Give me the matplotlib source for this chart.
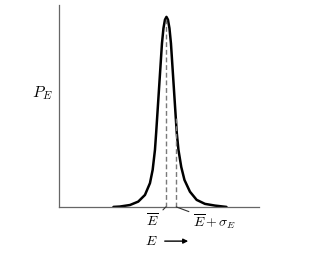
import numpy as np
import matplotlib
matplotlib.use("Agg")
import matplotlib.pyplot as plt

plt.rcParams['mathtext.fontset'] = 'cm'

# curve (E in arbitrary units, P normalised to peak)
E_left = [2.725, 3.05, 3.55, 3.965, 4.30, 4.55, 4.685, 4.80, 4.86, 4.965,
          5.045, 5.15, 5.225, 5.30, 5.375]
P_left = [0.0, 0.002, 0.01, 0.028, 0.063, 0.125, 0.195, 0.30, 0.39, 0.56,
          0.69, 0.86, 0.94, 0.985, 1.0]
E_right = [5.45, 5.525, 5.60, 5.705, 5.785, 5.89, 5.975, 6.115, 6.275, 6.55,
           6.885, 7.30, 7.80, 8.375]
P_right = [0.985, 0.94, 0.86, 0.69, 0.56, 0.39, 0.30, 0.21, 0.142, 0.08,
           0.037, 0.016, 0.007, 0.0]
E_mean = 5.375
sigma_E = 0.46

E = E_left + E_right
P = P_left + P_right

fig = plt.figure(figsize=(3.35, 2.58), dpi=100)
ax = fig.add_axes([0.176, 0.198, 0.597, 0.783])
ax.set_xlim(0, 10)
ax.set_ylim(0, 1.063)

ax.plot(E, P, color='black', lw=1.8, solid_joinstyle='round', solid_capstyle='round')

# dashed markers at the mean and at mean + sigma, up to the curve
p_mean = np.interp(E_mean, E, P)
p_sig = np.interp(E_mean + sigma_E, E, P)
dash = (0, (3.5, 2.0))
ax.plot([E_mean, E_mean], [0, p_mean - 0.01], color='#7a7a7a', lw=1.0, ls=dash)
ax.plot([E_mean + sigma_E] * 2, [0, p_sig], color='#7a7a7a', lw=1.0, ls=dash)

for s in ['top', 'right']:
    ax.spines[s].set_visible(False)
for s in ['left', 'bottom']:
    ax.spines[s].set_color('#666666')
    ax.spines[s].set_linewidth(0.9)
ax.set_xticks([])
ax.set_yticks([])

ax.annotate(r'$\overline{E}$', xy=(E_mean - 0.03, 0.0), xytext=(4.65, -0.075),
            ha='center', va='center', fontsize=10, annotation_clip=False,
            arrowprops=dict(arrowstyle='-', color='#333333', lw=0.8, shrinkA=2, shrinkB=0))
ax.annotate(r'$\overline{E} + \sigma_E$', xy=(E_mean + sigma_E + 0.03, 0.0), xytext=(6.7, -0.075),
            ha='left', va='center', fontsize=10, annotation_clip=False,
            arrowprops=dict(arrowstyle='-', color='#333333', lw=0.8, shrinkA=1, shrinkB=0))

ax.text(-0.3, 0.6, r'$P_E$', ha='right', va='center', fontsize=11.5)
ax.text(4.6, -0.18, r'$E$', ha='center', va='center', fontsize=10, clip_on=False)
ax.annotate('', xy=(6.6, -0.18), xytext=(5.15, -0.18), annotation_clip=False,
            arrowprops=dict(arrowstyle='-|>', color='black', lw=1.0, mutation_scale=7))

fig.savefig('out.png', dpi=100, facecolor='white')
